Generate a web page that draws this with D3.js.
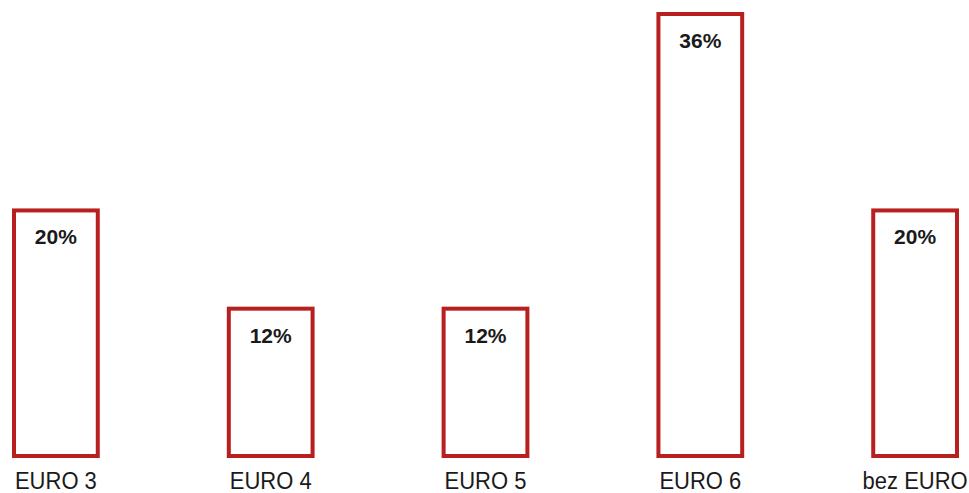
<!DOCTYPE html>
<html lang="pl">
    <head>
        <meta charset="utf-8">
        <title>EURO</title>
        <script type="text/javascript" src="https://d3js.org/d3.v7.min.js"></script>
        <style type="text/css">
            body { margin: 0; background: #fff; }

            .bar {
                fill: #fff;
                stroke: #b81f1f;
                stroke-width: 4;
            }

            .valueLabel {
                font-family: "Liberation Sans", Arial, sans-serif;
                font-weight: bold;
                font-size: 21px;
                fill: #1a1a1a;
                text-anchor: middle;
            }

            .catLabel {
                font-family: "Liberation Sans", Arial, sans-serif;
                font-size: 22px;
                fill: #1a1a1a;
                text-anchor: middle;
            }
        </style>
    </head>
    <body>
        <script type="text/javascript">
            // Dane
            var categories = ["EURO 3", "EURO 4", "EURO 5", "EURO 6", "bez EURO"];
            var values = [20, 12, 12, 36, 20];
            var valueLabels = ["20%", "12%", "12%", "36%", "20%"];

            var w = 969;
            var h = 493;

            var dataset = categories.map(function(c, i) {
                return { cat: c, value: values[i], label: valueLabels[i] };
            });

            // Escalas
            var xScale = d3.scaleBand()
                        .domain(categories)
                        .range([14, 957])
                        .paddingInner(0.61)
                        .paddingOuter(0);

            var yScale = d3.scaleLinear()
                        .domain([0, 36])
                        .range([456, 14]);

            var svg = d3.select("body")
                        .append("svg")
                        .attr("width", w)
                        .attr("height", h);

            // Barras
            svg.selectAll("rect.bar")
                .data(dataset)
                .enter()
                .append("rect")
                .attr("class", "bar")
                .attr("x", function(d) { return xScale(d.cat); })
                .attr("y", function(d) { return yScale(d.value); })
                .attr("width", xScale.bandwidth())
                .attr("height", function(d) { return yScale(0) - yScale(d.value); });

            // Porcentajes dentro de la barra
            svg.selectAll("text.valueLabel")
                .data(dataset)
                .enter()
                .append("text")
                .attr("class", "valueLabel")
                .attr("x", function(d) { return xScale(d.cat) + xScale.bandwidth() / 2; })
                .attr("y", function(d) { return yScale(d.value) + 34; })
                .text(function(d) { return d.label; });

            // Etiquetas de categoria (un poco estiradas en vertical)
            svg.selectAll("text.catLabel")
                .data(dataset)
                .enter()
                .append("text")
                .attr("class", "catLabel")
                .attr("transform", function(d) {
                    return "translate(" + (xScale(d.cat) + xScale.bandwidth() / 2) + ",489) scale(1,1.12)";
                })
                .text(function(d) { return d.cat; });
        </script>
    </body>
</html>
